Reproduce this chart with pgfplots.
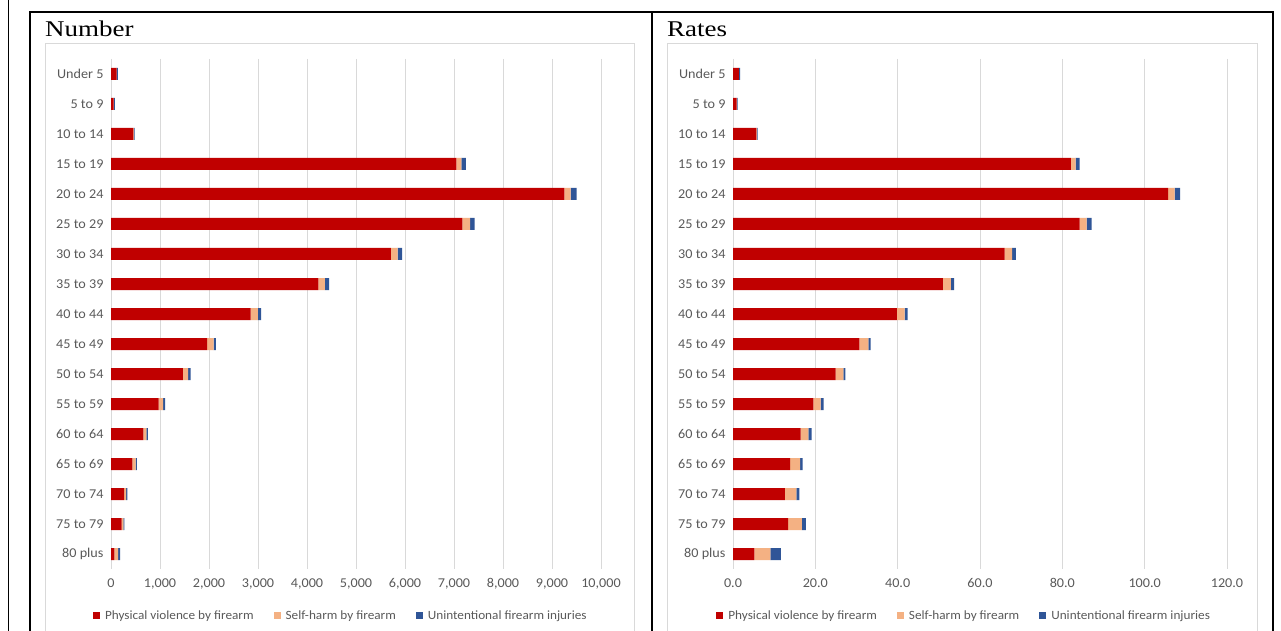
\documentclass[border=0pt]{standalone}
\usepackage{pgfplots}
\usepackage{pgfplotstable}
\pgfplotsset{compat=1.18}
\usepackage{fontspec}
\setmainfont{Carlito}[FakeStretch=1.05]
\newfontfamily\titlefont{Liberation Serif}[FakeStretch=1.2]
\definecolor{cviol}{HTML}{C00000}
\definecolor{cself}{HTML}{F4B183}
\definecolor{cunin}{HTML}{2F5597}
\definecolor{cgrid}{HTML}{D9D9D9}
\definecolor{ctext}{HTML}{595959}

\pgfplotstableread{
idx viol self unint
0 115 2 25
1 55 2 20
2 455 10 15
3 7050 100 90
4 9250 130 120
5 7170 160 90
6 5710 140 90
7 4230 135 85
8 2850 145 70
9 1960 135 45
10 1465 110 50
11 970 95 40
12 660 60 30
13 435 65 30
14 270 40 25
15 215 35 25
16 70 75 40
}\numtab

\pgfplotstableread{
idx viol self unint
0 1.4 0.05 0.3
1 0.9 0.05 0.2
2 5.7 0.1 0.2
3 82.1 1.1 1.0
4 105.7 1.6 1.3
5 84.2 1.7 1.2
6 66.0 1.8 0.9
7 51.0 1.9 0.8
8 39.8 1.9 0.7
9 30.7 2.2 0.5
10 24.9 1.9 0.5
11 19.5 1.8 0.7
12 16.4 1.9 0.8
13 13.9 2.4 0.6
14 12.6 2.8 0.7
15 13.4 3.3 1.0
16 5.2 3.9 2.5
}\ratetab

\pgfplotsset{
  mystyle/.style={
    scale only axis,
    xbar stacked,
    bar width=12pt,
    y dir=reverse,
    ymin=-0.5, ymax=16.5,
    ytick={0,...,16},
    yticklabels={Under 5,5 to 9,10 to 14,15 to 19,20 to 24,25 to 29,30 to 34,35 to 39,40 to 44,45 to 49,50 to 54,55 to 59,60 to 64,65 to 69,70 to 74,75 to 79,80 plus},
    xmajorgrids,
    grid style={cgrid, line width=0.9pt},
    axis line style={draw=none},
    major tick length=0pt,
    tick label style={font=\fontsize{13.5}{15}\selectfont, text=ctext},
    /pgf/number format/assume math mode=true,
    yticklabel style={xshift=-4pt},
    xticklabel style={yshift=-6pt},
    legend columns=3,
    legend style={draw=none, fill=none, font=\fontsize{12.6}{14}\selectfont, text=ctext, anchor=center,
      /tikz/every even column/.append style={column sep=18pt},
      /tikz/every odd column/.append style={column sep=3pt}},
    legend image code/.code={\fill[##1] (0pt,-3.5pt) rectangle (7pt,3.5pt);},
  }
}

\begin{document}
\begin{tikzpicture}[x=1pt,y=1pt]
\useasboundingbox (0,0) rectangle (1281,631);

% chart area boxes
\draw[cgrid, line width=1pt] (45,0) -- (45,587) -- (634,587) -- (634,0);
\draw[cgrid, line width=1pt] (667,0) -- (667,587) -- (1257,587) -- (1257,0);

\begin{axis}[mystyle,
  at={(111pt,62pt)}, anchor=south west,
  width=490pt, height=510pt,
  xmin=0, xmax=10000,
  xtick={0,1000,...,10000},
  scaled x ticks=false,
  xticklabel style={/pgf/number format/.cd, fixed, 1000 sep={,}},
  legend style={at={(axis description cs:0.469,-0.091)}},
]
\addplot[fill=cviol, draw=none] table[x=viol, y=idx] {\numtab};
\addplot[fill=cself, draw=none] table[x=self, y=idx] {\numtab};
\addplot[fill=cunin, draw=none] table[x=unint, y=idx] {\numtab};
\legend{Physical violence by firearm, Self-harm by firearm, Unintentional firearm injuries}
\end{axis}

\begin{axis}[mystyle,
  at={(733pt,62pt)}, anchor=south west,
  width=494pt, height=510pt,
  xmin=0, xmax=120,
  xtick={0,20,...,120},
  xticklabel style={/pgf/number format/.cd, fixed, fixed zerofill, precision=1},
  legend style={at={(axis description cs:0.468,-0.091)}},
]
\addplot[fill=cviol, draw=none] table[x=viol, y=idx] {\ratetab};
\addplot[fill=cself, draw=none] table[x=self, y=idx] {\ratetab};
\addplot[fill=cunin, draw=none] table[x=unint, y=idx] {\ratetab};
\legend{Physical violence by firearm, Self-harm by firearm, Unintentional firearm injuries}
\end{axis}

% titles
\node[anchor=base west, inner sep=0pt, font=\titlefont\fontsize{22.5}{26}\selectfont] at (45,594) {Number};
\node[anchor=base west, inner sep=0pt, font=\titlefont\fontsize{22.5}{26}\selectfont] at (667,594) {Rates};

% frame
\draw[black, line width=0.8pt] (8.7,0) -- (8.7,631);
\draw[black, line width=2pt] (30,0) -- (30,619) -- (1273,619) -- (1273,0);
\draw[black, line width=2pt] (652,0) -- (652,619);
\end{tikzpicture}
\end{document}
